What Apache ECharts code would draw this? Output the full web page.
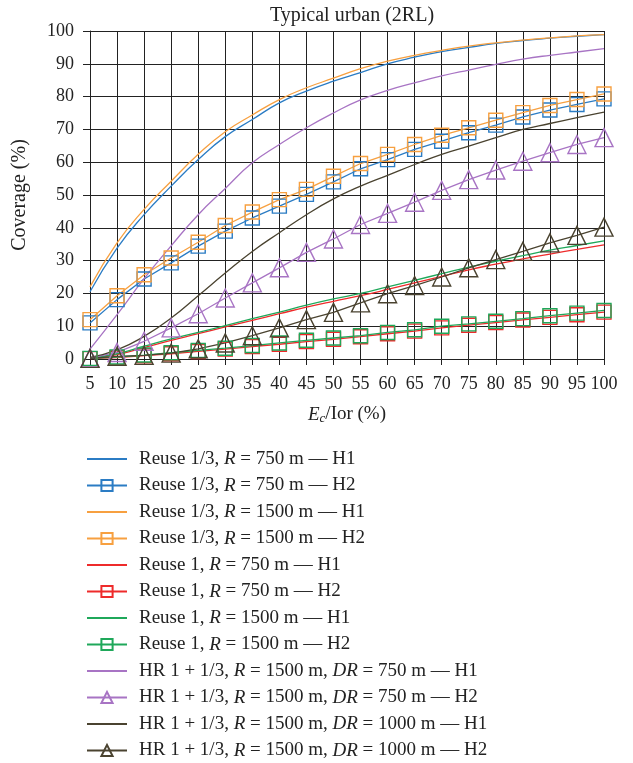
<!DOCTYPE html>
<html>
<head>
<meta charset="utf-8">
<script src="https://cdn.jsdelivr.net/npm/echarts@6/dist/echarts.min.js"></script>
<style>
  html, body { margin: 0; padding: 0; background: #fff; }
  #chart { width: 633px; height: 763px; }
</style>
</head>
<body>
<div id="chart"></div>
<script>
// Ec/Ior (%)
const ecIor = [5, 10, 15, 20, 25, 30, 35, 40, 45, 50, 55, 60, 65, 70, 75, 80, 85, 90, 95, 100]

// coverage (%)
const reuse13R750H1 = [20.5, 33.8, 44, 52.7, 60.8, 67.8, 73, 78.1, 81.7, 84.7, 87.3, 90, 92, 93.7, 95, 96.2, 97.1, 97.8, 98.4, 98.9]
const reuse13R750H2 = [11, 18.1, 24.4, 29.3, 34.4, 39, 43, 46.6, 50.2, 54, 58, 60.8, 63.9, 66.4, 69, 71.3, 73.8, 75.9, 77.6, 79.3]
const reuse13R1500H1 = [22, 35.4, 45.6, 54.2, 62.4, 69.3, 74.4, 79.1, 82.7, 85.6, 88.5, 90.8, 92.6, 94.1, 95.4, 96.4, 97.2, 97.9, 98.5, 98.9]
const reuse13R1500H2 = [12, 19.3, 25.7, 30.8, 35.6, 40.7, 44.8, 48.6, 51.7, 55.7, 59.6, 62.4, 65.4, 68.2, 70.5, 72.8, 75.1, 77.3, 79.1, 80.8]
const reuse1R750H1 = [0.2, 1.3, 3.5, 5.7, 7.7, 9.8, 11.8, 13.8, 15.8, 17.6, 19.3, 21.2, 23.2, 25.2, 27.2, 28.9, 30.5, 32, 33.4, 34.8]
const reuse1R750H2 = [0.1, 0.4, 1.0, 1.6, 2.3, 3.0, 3.8, 4.5, 5.3, 6.0, 6.8, 7.7, 8.5, 9.5, 10.3, 11.1, 11.9, 12.7, 13.5, 14.3]
const reuse1R1500H1 = [0.3, 1.6, 3.9, 6.1, 8.1, 10.2, 12.3, 14.3, 16.4, 18.3, 20, 22, 24, 26, 28, 29.8, 31.5, 33.2, 34.6, 36]
const reuse1R1500H2 = [0.2, 0.6, 1.2, 1.9, 2.6, 3.3, 4.1, 4.9, 5.7, 6.4, 7.1, 8.1, 8.9, 10, 10.7, 11.5, 12.3, 13.2, 14, 14.8]
const hrDR750H1 = [3, 13.5, 24.5, 34.5, 44, 52, 59.8, 65.4, 70.5, 75, 79, 81.9, 84.2, 86.3, 88.1, 89.8, 91.4, 92.6, 93.6, 94.6]
const hrDR750H2 = [0.3, 2, 5.4, 9.5, 13.8, 18.6, 23.2, 27.8, 32.5, 36.6, 41, 44.4, 47.8, 51.4, 54.7, 57.6, 60.3, 62.9, 65.4, 67.5]
const hrDR1000H1 = [0.5, 2.8, 6.9, 12.5, 19.3, 26.2, 32.8, 38.5, 44, 48.8, 52.7, 56, 59.3, 62.4, 64.9, 67.5, 70, 71.8, 73.6, 75.3]
const hrDR1000H2 = [0.2, 0.8, 1.1, 1.8, 3.1, 4.9, 7.1, 9.5, 12, 14.2, 17.1, 19.9, 22.4, 25, 27.8, 30.3, 32.8, 35.4, 37.7, 40.2]

const seriesDefs = [
  { name: 'Reuse 1/3, R = 750 m — H1', data: reuse13R750H1, color: '#2b7cc4', symbol: 'none' },
  { name: 'Reuse 1/3, R = 750 m — H2', data: reuse13R750H2, color: '#2b7cc4', symbol: 'rect' },
  { name: 'Reuse 1/3, R = 1500 m — H1', data: reuse13R1500H1, color: '#f7a040', symbol: 'none' },
  { name: 'Reuse 1/3, R = 1500 m — H2', data: reuse13R1500H2, color: '#f7a040', symbol: 'rect' },
  { name: 'Reuse 1, R = 750 m — H1', data: reuse1R750H1, color: '#ee2b2b', symbol: 'none' },
  { name: 'Reuse 1, R = 750 m — H2', data: reuse1R750H2, color: '#ee2b2b', symbol: 'rect' },
  { name: 'Reuse 1, R = 1500 m — H1', data: reuse1R1500H1, color: '#1fa85a', symbol: 'none' },
  { name: 'Reuse 1, R = 1500 m — H2', data: reuse1R1500H2, color: '#1fa85a', symbol: 'rect' },
  { name: 'HR 1 + 1/3, R = 1500 m, DR = 750 m — H1', data: hrDR750H1, color: '#a874c4', symbol: 'none' },
  { name: 'HR 1 + 1/3, R = 1500 m, DR = 750 m — H2', data: hrDR750H2, color: '#a874c4', symbol: 'triangle' },
  { name: 'HR 1 + 1/3, R = 1500 m, DR = 1000 m — H1', data: hrDR1000H1, color: '#4a4330', symbol: 'none' },
  { name: 'HR 1 + 1/3, R = 1500 m, DR = 1000 m — H2', data: hrDR1000H2, color: '#4a4330', symbol: 'triangle' }
]

const serif = '"Liberation Serif", "DejaVu Serif", serif'

const chart = echarts.init(document.getElementById('chart'))

const option = {
  animation: false,
  backgroundColor: '#fff',
  title: {
    text: 'Typical urban (2RL)',
    left: 347,
    textAlign: 'center',
    top: 1,
    textStyle: { fontFamily: serif, fontSize: 20, fontWeight: 'normal', color: '#222' }
  },
  grid: { left: 90, right: 29, top: 31, bottom: 404 },
  xAxis: {
    type: 'value',
    min: 5,
    max: 100,
    interval: 5,
    name: '{i|E}{s|c}/Ior (%)',
    nameLocation: 'middle',
    nameGap: 45,
    nameTextStyle: {
      fontFamily: serif, fontSize: 19, color: '#222',
      rich: {
        i: { fontFamily: serif, fontSize: 19, fontStyle: 'italic', color: '#222' },
        s: { fontFamily: serif, fontSize: 13, fontStyle: 'italic', color: '#222', verticalAlign: 'bottom', padding: [8, 0, 0, 0] }
      }
    },
    axisLine: { lineStyle: { color: '#222', width: 1 } },
    axisTick: { show: true, length: 6, lineStyle: { color: '#222' } },
    axisLabel: { fontFamily: serif, fontSize: 18, color: '#222', margin: 16 },
    splitLine: { show: true, lineStyle: { color: '#222', width: 1 } }
  },
  yAxis: {
    type: 'value',
    min: 0,
    max: 100,
    interval: 10,
    name: 'Coverage (%)',
    nameLocation: 'middle',
    nameGap: 60,
    nameTextStyle: { fontFamily: serif, fontSize: 20, color: '#222' },
    axisLine: { show: true, lineStyle: { color: '#222', width: 1 } },
    axisTick: { show: true, length: 7, lineStyle: { color: '#222' } },
    axisLabel: { fontFamily: serif, fontSize: 18, color: '#222', margin: 16 },
    splitLine: { show: true, lineStyle: { color: '#222', width: 1 } }
  },
  legend: {
    orient: 'vertical',
    left: 86,
    top: 449.5,
    height: 340,
    padding: 0,
    itemWidth: 40,
    itemHeight: 14,
    itemGap: 7.5,
    formatter: function(name) {
      return name.replace(/\b(DR|R)\b/g, '{i|$1}')
    },
    textStyle: {
      fontFamily: serif, fontSize: 19, color: '#222', padding: [0, 0, 0, 7],
      rich: {
        i: { fontFamily: serif, fontSize: 19, fontStyle: 'italic', color: '#222' }
      }
    },
    data: seriesDefs.map(d => d.symbol === 'none'
      ? { name: d.name, itemStyle: { opacity: 0 } }
      : { name: d.name })
  },
  series: seriesDefs.map(d => ({
    name: d.name,
    type: 'line',
    smooth: d.symbol === 'none',
    symbol: d.symbol,
    showSymbol: d.symbol !== 'none',
    symbolSize: d.symbol === 'triangle' ? 18 : 14,
    lineStyle: { color: d.color, width: 1.3 },
    itemStyle: { color: 'rgba(255,255,255,0)', borderColor: d.color, borderWidth: 1.4 },
    data: ecIor.map((x, i) => [x, d.data[i]])
  }))
}

chart.setOption(option)
</script>
</body>
</html>
